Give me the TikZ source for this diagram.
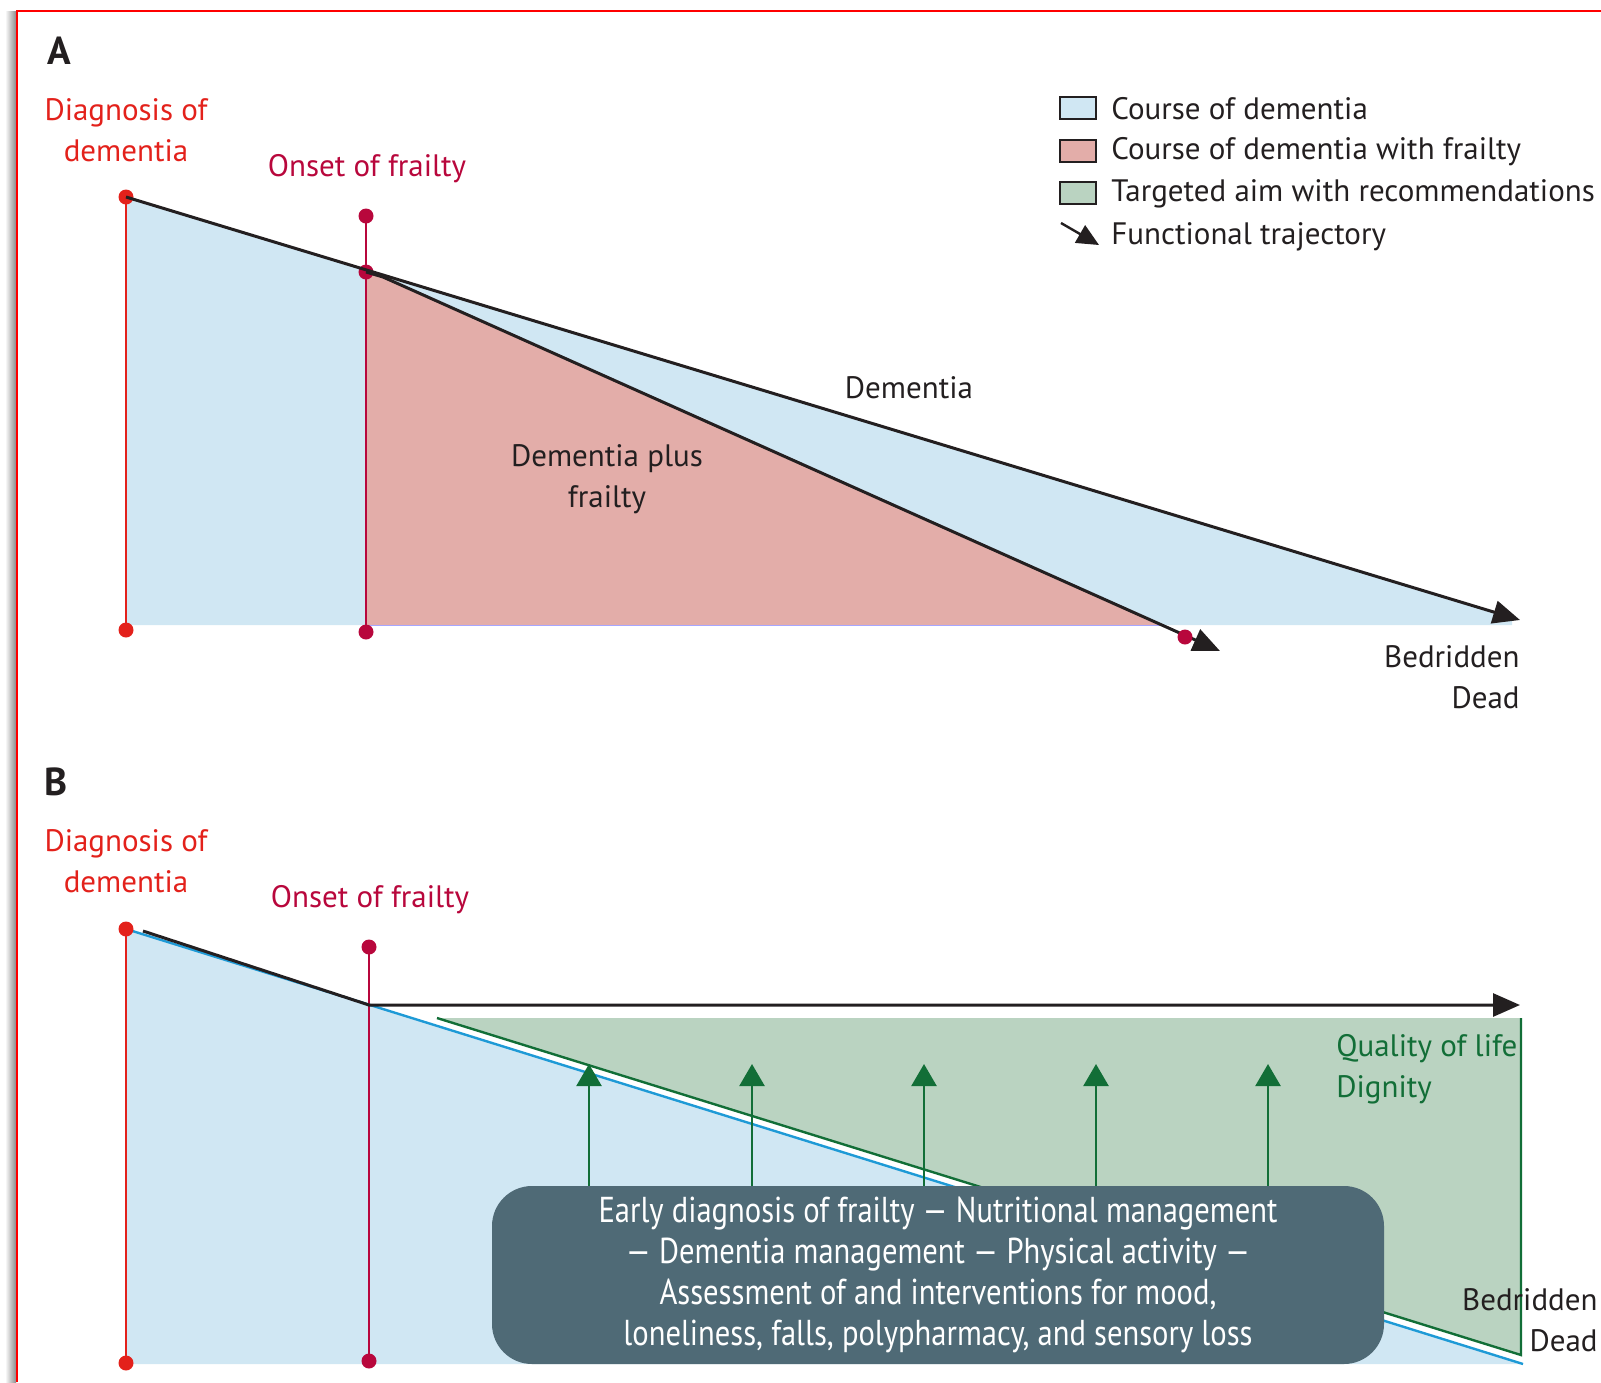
\documentclass[tikz,border=0pt]{standalone}
\usepackage{fontspec}
\setmainfont{PT Sans}
\newfontfamily\narrowfont[FakeStretch=0.85, Ligatures=TeX]{PT Sans}
\usetikzlibrary{arrows.meta, positioning, calc}

\definecolor{dementiablue}{HTML}{D0E7F3}
\definecolor{frailpink}{HTML}{E3ADA9}
\definecolor{aimgreen}{HTML}{BAD3C1}
\definecolor{diagred}{HTML}{E3211B}
\definecolor{onsetred}{HTML}{B8073C}
\definecolor{darkgreen}{HTML}{126E37}
\definecolor{lineblue}{HTML}{1E9AD6}
\definecolor{boxslate}{HTML}{4F6A76}
\definecolor{inkgrey}{HTML}{231F20}

\tikzset{
  trajectory/.style={line width=3pt, inkgrey, -{Triangle[length=27pt,width=23pt]}},
  aimarrow/.style={line width=2.4pt, darkgreen, -{Triangle[length=22pt,width=25pt]}},
  dot/.style={circle, fill, inner sep=0pt, minimum size=15pt},
  tagtext/.style={font=\fontsize{31}{41}\selectfont, align=center, inner sep=0pt},
  paneltag/.style={font=\bfseries\fontsize{39}{40}\selectfont, inner sep=0pt},
  keybox/.style={draw=inkgrey, line width=1.6pt, minimum width=36pt, minimum height=22pt, inner sep=0pt},
  keytext/.style={tagtext, inkgrey, anchor=west}
}

\begin{document}
\begin{tikzpicture}[x=1pt, y=-1pt, thick]
    \useasboundingbox (0,0) rectangle (1601,1382);

    % Frame
    \shade[left color=white, right color=black!45] (5,11) rectangle (16,1382);
    \draw[red, line width=2pt] (17,1382) -- (17,11) -- (1601,11);

    %% ---------------- Panel A ----------------
    \coordinate (diagtopA) at (126,197);
    \coordinate (diagbotA) at (126,630);
    \coordinate (onsettopA) at (366,216);
    \coordinate (onsetmidA) at (366,272);
    \coordinate (onsetbotA) at (366,632);
    \coordinate (frailendA) at (1185,637);
    \coordinate (splitA) at (383,277);
    \coordinate (deadA) at (1520,620);
    \coordinate (frailtipA) at (1220,651);

    % Course of dementia
    \fill[dementiablue] (diagtopA) -- (1512,618) -- (1512,625) -- (126,625) -- cycle;
    % Course with frailty
    \fill[frailpink] (onsetmidA) -- (splitA) -- (1161,625) -- (366,625) -- cycle;
    \draw[line width=1pt, blue!35] (366,625) -- (1161,625);

    % Onset and diagnosis markers
    \draw[diagred, line width=2.6pt] (diagtopA) -- (diagbotA);
    \draw[onsetred, line width=2.6pt] (onsettopA) -- (onsetbotA);
    \node[dot, diagred] (diagtopdotA) at (diagtopA) {};
    \node[dot, diagred] (diagbotdotA) at (diagbotA) {};
    \node[dot, onsetred] (onsettopdotA) at (onsettopA) {};
    \node[dot, onsetred] (onsetbotdotA) at (onsetbotA) {};
    \node[dot, onsetred] (onsetmiddotA) at (onsetmidA) {};

    % Trajectories
    \draw[trajectory] (diagtopA) -- (deadA);
    \draw[trajectory] (onsetmidA) -- (splitA) -- (frailtipA);
    \node[dot, onsetred] (fraildotA) at (frailendA) {};

    % Labels
    \node[paneltag, inkgrey] (tagA) at (59,51) {A};
    \node[tagtext, diagred] (diagtxtA) at (126,130) {Diagnosis of\\dementia};
    \node[tagtext, onsetred] (onsettxtA) at (367,169) {Onset of frailty};
    \node[tagtext, inkgrey] (dementiatxt) at (909,388) {Dementia};
    \node[tagtext, inkgrey] (plustxt) at (607,479) {Dementia plus\\frailty};
    \node[tagtext, inkgrey, align=right, anchor=east] (endtxtA) at (1520,677) {Bedridden\\Dead};

    % Key
    \node[keybox, fill=dementiablue] (keyblue) at (1078,108) {};
    \node[keybox, fill=frailpink] (keypink) at (1078,151) {};
    \node[keybox, fill=aimgreen] (keygreen) at (1078,193) {};
    \coordinate (keyarrowstart) at (1061,223);
    \coordinate (keyarrowtip) at (1099,245);
    \draw[line width=2.4pt, inkgrey, -{Triangle[length=22pt,width=20pt]}] (keyarrowstart) -- (keyarrowtip);
    \node[keytext] (keybluetxt) at (1111,109) {Course of dementia};
    \node[keytext] (keypinktxt) at (1111,152) {Course of dementia with frailty};
    \node[keytext] (keygreentxt) at (1111,194) {Targeted aim with recommendations};
    \node[keytext] (keyarrowtxt) at (1111,237) {Functional trajectory};

    %% ---------------- Panel B ----------------
    \coordinate (diagtopB) at (126,929);
    \coordinate (diagbotB) at (126,1363);
    \coordinate (onsettopB) at (369,947);
    \coordinate (onsetbotB) at (369,1361);
    \coordinate (kneeB) at (369,1005);
    \coordinate (startB) at (143,931);
    \coordinate (qolB) at (1520,1005);
    \coordinate (deadB) at (1523,1364);
    \coordinate (aimleft) at (437,1018);
    \coordinate (aimtop) at (1521,1018);
    \coordinate (aimbot) at (1521,1355);

    % Course of dementia
    \fill[dementiablue] (diagtopB) -- (deadB) -- (126,1364) -- cycle;
    % Targeted aim
    \fill[aimgreen] (aimleft) -- (aimtop) -- (aimbot) -- cycle;
    \draw[lineblue, line width=2.4pt] (diagtopB) -- (deadB);
    \draw[darkgreen, line width=2.4pt] (aimleft) -- (aimbot) -- (aimtop);

    % Onset and diagnosis markers
    \draw[diagred, line width=2.6pt] (diagtopB) -- (diagbotB);
    \draw[onsetred, line width=2.6pt] (onsettopB) -- (onsetbotB);
    \node[dot, diagred] (diagtopdotB) at (diagtopB) {};
    \node[dot, diagred] (diagbotdotB) at (diagbotB) {};
    \node[dot, onsetred] (onsettopdotB) at (onsettopB) {};
    \node[dot, onsetred] (onsetbotdotB) at (onsetbotB) {};

    % Trajectory
    \draw[trajectory] (startB) -- (kneeB) -- (qolB);

    % Recommendations
    \node[rounded corners=40pt, fill=boxslate, minimum width=892pt, minimum height=178pt,
          font=\narrowfont\fontsize{36}{41}\selectfont, text=white, align=center] (recbox) at (938,1275)
      {Early diagnosis of frailty — Nutritional management\\
       — Dementia management — Physical activity —\\
       Assessment of and interventions for mood,\\
       loneliness, falls, polypharmacy, and sensory loss};
    \foreach \x in {589,752,924,1096,1268} {
      \coordinate (up\x) at (\x,1064);
      \draw[aimarrow] (recbox.north -| up\x) -- (up\x);
    }

    % Labels
    \node[paneltag, inkgrey] (tagB) at (56,782) {B};
    \node[tagtext, diagred] (diagtxtB) at (126,861) {Diagnosis of\\dementia};
    \node[tagtext, onsetred] (onsettxtB) at (370,900) {Onset of frailty};
    \node[tagtext, darkgreen, align=left, anchor=west] (qoltxt) at (1336,1069) {Quality of life\\Dignity};
    \node[tagtext, inkgrey, align=right, anchor=east] (endtxtB) at (1598,1320) {Bedridden\\Dead};
\end{tikzpicture}
\end{document}
